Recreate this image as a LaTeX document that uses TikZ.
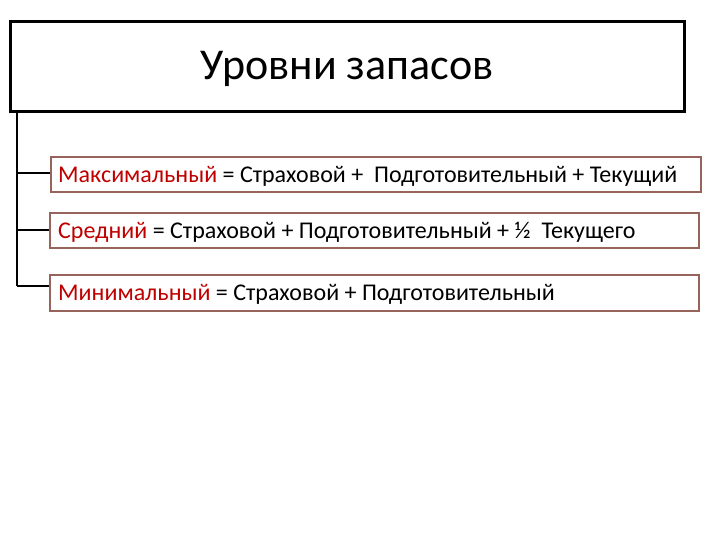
\documentclass[tikz,border=0pt]{standalone}
\usepackage{fontspec}
\setmainfont{Carlito}
\begin{document}
\begin{tikzpicture}[x=1pt,y=1pt,
  titlebox/.style={draw=black,line width=2.2pt,inner sep=0pt},
  levelbox/.style={draw=boxbrown,line width=2pt,inner sep=0pt,fill=white},
  leveltext/.style={anchor=west,font=\fontsize{24}{28}\selectfont,inner sep=0pt},
  conn/.style={draw=black,line width=2pt}]
\definecolor{boxbrown}{RGB}{150,100,90}
\definecolor{redtxt}{RGB}{192,0,0}
\useasboundingbox (0,0) rectangle (720,540);
\fill[white] (0,0) rectangle (720,540);
% title
\node[titlebox,minimum width=674pt,minimum height=90pt] (title) at (347.5,473.5) {};
\node[font=\fontsize{44}{52}\selectfont] (titletext) at (347,471) {Уровни запасов};
% level boxes
\node[levelbox,minimum width=650pt,minimum height=35pt] (b1) at (375.5,365) {};
\node[levelbox,minimum width=649pt,minimum height=35pt] (b2) at (374.5,309) {};
\node[levelbox,minimum width=649pt,minimum height=36pt] (b3) at (374.5,246.5) {};
\node[leveltext] (t1) at (58,364) {\textcolor{redtxt}{Максимальный} = Страховой +\ \ Подготовительный + Текущий};
\node[leveltext] (t2) at (58,308) {\textcolor{redtxt}{Средний} = Страховой + Подготовительный + ½\ \ Текущего};
\node[leveltext] (t3) at (58,245.5) {\textcolor{redtxt}{Минимальный} = Страховой + Подготовительный};
% connectors
\coordinate (top) at (17,428.5);
\coordinate (j1) at (17,366.5);
\coordinate (j2) at (17,310);
\coordinate (j3) at (17,254);
\draw[conn] (top) -- (j3);
\draw[conn] (j1) -- (b1.west |- j1);
\draw[conn] (j2) -- (b2.west |- j2);
\draw[conn] (j3) -- (b3.west |- j3);
\end{tikzpicture}
\end{document}
